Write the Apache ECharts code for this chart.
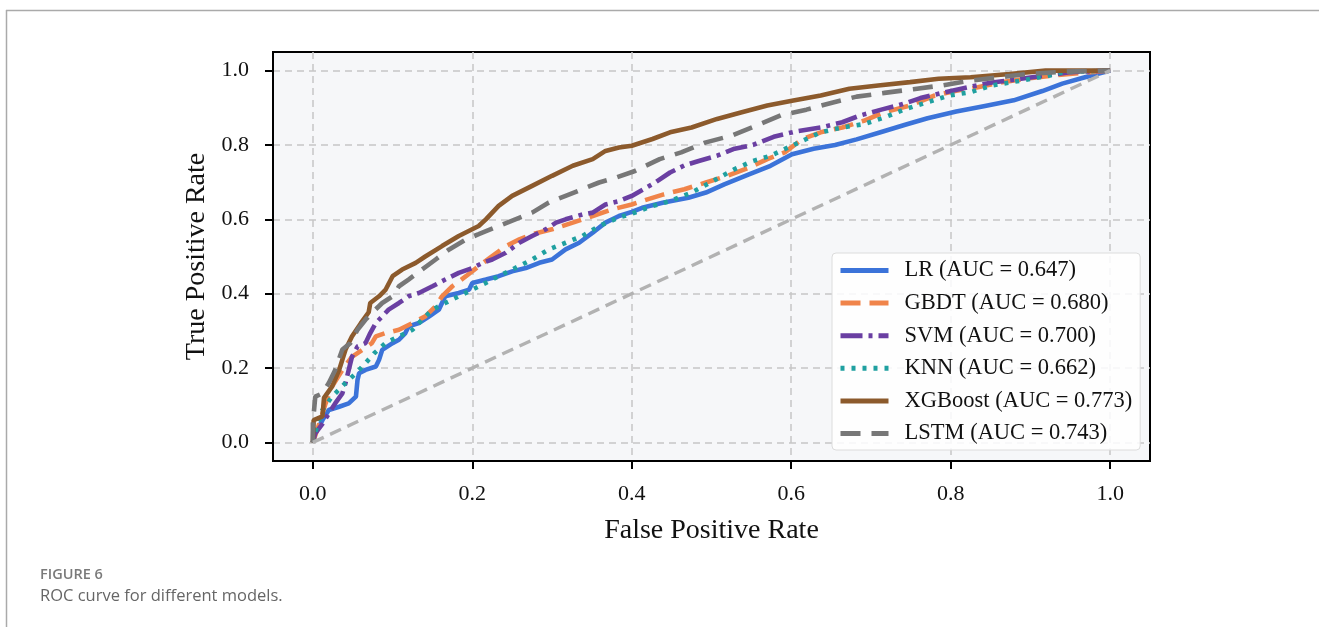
<!DOCTYPE html>
<html>
<head>
<meta charset="utf-8">
<script src="https://cdn.jsdelivr.net/npm/echarts@6/dist/echarts.min.js"></script>
<style>
  html, body { margin: 0; padding: 0; background: #fff; }
  #chart { width: 1319px; height: 627px; }
</style>
</head>
<body>
<div id="chart"></div>
<script>
// ---- Data ----
const tickValues = [0, 0.2, 0.4, 0.6, 0.8, 1.0];
const tickLabels = ['0.0', '0.2', '0.4', '0.6', '0.8', '1.0'];

const seriesNames = [
  'LR (AUC = 0.647)',
  'GBDT (AUC = 0.680)',
  'SVM (AUC = 0.700)',
  'KNN (AUC = 0.662)',
  'XGBoost (AUC = 0.773)',
  'LSTM (AUC = 0.743)'
];

const rocLR = [[0,0],[0.003,0.024],[0.012,0.06],[0.02,0.087],[0.033,0.096],[0.045,0.105],[0.054,0.123],[0.056,0.168],[0.058,0.186],[0.066,0.195],[0.079,0.204],[0.083,0.222],[0.087,0.249],[0.1,0.267],[0.108,0.276],[0.116,0.294],[0.12,0.312],[0.133,0.321],[0.146,0.339],[0.158,0.357],[0.166,0.393],[0.183,0.402],[0.196,0.411],[0.2,0.429],[0.217,0.438],[0.233,0.447],[0.25,0.46],[0.267,0.469],[0.284,0.483],[0.3,0.492],[0.317,0.519],[0.334,0.537],[0.351,0.564],[0.367,0.591],[0.384,0.609],[0.4,0.62],[0.413,0.631],[0.44,0.645],[0.471,0.658],[0.493,0.672],[0.516,0.694],[0.547,0.721],[0.574,0.744],[0.601,0.775],[0.628,0.79],[0.655,0.8],[0.682,0.815],[0.713,0.835],[0.744,0.855],[0.771,0.872],[0.807,0.89],[0.843,0.905],[0.879,0.92],[0.915,0.945],[0.94,0.965],[0.965,0.98],[1,1]];

const rocGBDT = [[0,0],[0.008,0.05],[0.016,0.105],[0.024,0.15],[0.037,0.195],[0.049,0.23],[0.062,0.249],[0.074,0.267],[0.079,0.285],[0.091,0.294],[0.108,0.303],[0.125,0.321],[0.141,0.339],[0.154,0.366],[0.162,0.393],[0.175,0.42],[0.192,0.447],[0.208,0.474],[0.225,0.501],[0.242,0.528],[0.259,0.546],[0.275,0.56],[0.3,0.573],[0.326,0.591],[0.351,0.609],[0.376,0.627],[0.4,0.64],[0.413,0.649],[0.44,0.667],[0.466,0.681],[0.493,0.699],[0.52,0.717],[0.547,0.739],[0.57,0.762],[0.592,0.78],[0.614,0.816],[0.637,0.834],[0.664,0.847],[0.691,0.865],[0.717,0.888],[0.749,0.906],[0.78,0.933],[0.807,0.946],[0.834,0.955],[0.865,0.969],[0.897,0.979],[0.933,0.988],[1,1]];

const rocSVM = [[0,0],[0.003,0.024],[0.012,0.05],[0.02,0.078],[0.028,0.105],[0.037,0.132],[0.041,0.16],[0.045,0.195],[0.049,0.23],[0.056,0.258],[0.066,0.267],[0.072,0.294],[0.079,0.321],[0.087,0.339],[0.095,0.357],[0.108,0.375],[0.12,0.393],[0.133,0.402],[0.15,0.42],[0.166,0.438],[0.183,0.456],[0.2,0.469],[0.213,0.483],[0.225,0.492],[0.242,0.51],[0.259,0.537],[0.275,0.555],[0.292,0.573],[0.305,0.591],[0.317,0.6],[0.338,0.613],[0.351,0.618],[0.367,0.64],[0.384,0.649],[0.4,0.663],[0.43,0.7],[0.448,0.726],[0.466,0.745],[0.484,0.757],[0.507,0.771],[0.529,0.79],[0.552,0.8],[0.578,0.822],[0.605,0.836],[0.637,0.847],[0.664,0.861],[0.686,0.879],[0.713,0.895],[0.74,0.91],[0.762,0.926],[0.789,0.94],[0.821,0.955],[0.852,0.968],[0.888,0.978],[0.924,0.988],[0.951,0.996],[1,1]];

const rocKNN = [[0,0],[0.005,0.042],[0.012,0.087],[0.024,0.123],[0.041,0.16],[0.054,0.186],[0.066,0.213],[0.077,0.24],[0.091,0.267],[0.108,0.285],[0.125,0.303],[0.137,0.33],[0.15,0.357],[0.166,0.375],[0.183,0.393],[0.2,0.411],[0.217,0.429],[0.233,0.447],[0.25,0.465],[0.275,0.492],[0.296,0.519],[0.317,0.537],[0.338,0.555],[0.359,0.582],[0.384,0.605],[0.4,0.615],[0.422,0.633],[0.448,0.649],[0.475,0.672],[0.502,0.703],[0.529,0.735],[0.552,0.757],[0.574,0.771],[0.596,0.793],[0.619,0.816],[0.637,0.834],[0.664,0.847],[0.691,0.856],[0.717,0.874],[0.744,0.897],[0.771,0.915],[0.798,0.933],[0.825,0.942],[0.852,0.96],[0.888,0.973],[0.924,0.987],[0.942,0.996],[1,1]];

const rocXGB = [[0,0],[0.001,0.06],[0.012,0.07],[0.014,0.12],[0.024,0.15],[0.033,0.195],[0.041,0.25],[0.049,0.285],[0.06,0.32],[0.07,0.35],[0.072,0.375],[0.083,0.393],[0.091,0.41],[0.1,0.447],[0.112,0.465],[0.129,0.483],[0.141,0.5],[0.162,0.528],[0.183,0.555],[0.208,0.582],[0.217,0.6],[0.233,0.636],[0.25,0.663],[0.275,0.69],[0.3,0.717],[0.326,0.744],[0.351,0.762],[0.367,0.784],[0.384,0.793],[0.4,0.798],[0.426,0.816],[0.448,0.834],[0.475,0.847],[0.507,0.87],[0.538,0.888],[0.57,0.906],[0.601,0.919],[0.637,0.933],[0.673,0.951],[0.709,0.96],[0.749,0.969],[0.785,0.978],[0.825,0.982],[0.874,0.991],[0.919,1.0],[1,1]];

const rocLSTM = [[0,0],[0,0.05],[0.003,0.123],[0.012,0.132],[0.02,0.16],[0.028,0.195],[0.037,0.25],[0.047,0.267],[0.056,0.303],[0.066,0.33],[0.074,0.348],[0.087,0.375],[0.1,0.393],[0.108,0.42],[0.12,0.438],[0.137,0.465],[0.154,0.492],[0.171,0.519],[0.192,0.546],[0.208,0.56],[0.233,0.582],[0.254,0.6],[0.275,0.618],[0.296,0.645],[0.317,0.663],[0.338,0.681],[0.359,0.699],[0.38,0.712],[0.404,0.73],[0.435,0.762],[0.462,0.78],[0.493,0.807],[0.525,0.825],[0.556,0.852],[0.587,0.88],[0.619,0.895],[0.65,0.913],[0.682,0.93],[0.717,0.94],[0.753,0.95],[0.789,0.96],[0.825,0.973],[0.861,0.982],[0.897,0.991],[0.942,0.997],[1,1]];

const chanceLine = [[0,0],[1,1]];

// ---- Chart ----
const SERIF = '"Liberation Serif", "Times New Roman", serif';
const colors = ['#3b73d9', '#f0844a', '#6a3fa2', '#1fa0a0', '#8c5a2c', '#777777'];
const dashes = ['solid', [20, 9], [22, 6, 4, 6], [4, 7], 'solid', [20, 11]];
const datasets = [rocLR, rocGBDT, rocSVM, rocKNN, rocXGB, rocLSTM];

const chart = echarts.init(document.getElementById('chart'), null, { renderer: 'canvas' });

const series = datasets.map((d, i) => ({
  name: seriesNames[i],
  type: 'line',
  data: d,
  symbol: 'none',
  smooth: false,
  animation: false,
  lineStyle: { color: colors[i], width: 4.6, type: dashes[i], cap: 'butt' },
  itemStyle: { color: colors[i] },
  z: 3 + i
}));
series.push({
  name: 'chance',
  type: 'line',
  data: chanceLine,
  symbol: 'none',
  animation: false,
  lineStyle: { color: '#b2b2b2', width: 3.4, type: [12, 7] },
  z: 10
});

const axisCommon = {
  type: 'value',
  min: -0.05,
  max: 1.05,
  axisLine: { show: true, onZero: false, lineStyle: { color: '#000', width: 2 } },
  axisTick: { show: true, inside: false, customValues: tickValues, length: 8, lineStyle: { color: '#000', width: 2 } },
  axisLabel: {
    customValues: tickValues,
    formatter: v => tickLabels[tickValues.findIndex(t => Math.abs(t - v) < 1e-6)] ?? '',
    fontFamily: SERIF, fontSize: 22, color: '#111'
  },
  splitLine: { show: true, lineStyle: { color: '#c6c6c6', width: 1.5, type: [7, 5] } },
  nameLocation: 'middle',
  nameTextStyle: { fontFamily: SERIF, fontSize: 28, color: '#111' }
};

chart.setOption({
  animation: false,
  grid: {
    left: 273, top: 52, width: 877, height: 409,
    show: true, backgroundColor: '#f6f7f9', borderColor: '#000', borderWidth: 2
  },
  xAxis: Object.assign({}, axisCommon, {
    position: 'bottom',
    name: 'False Positive Rate', nameGap: 56,
    axisLabel: Object.assign({}, axisCommon.axisLabel, { margin: 22 })
  }),
  yAxis: Object.assign({}, axisCommon, {
    position: 'left',
    name: 'True Positive Rate', nameGap: 62,
    axisLabel: Object.assign({}, axisCommon.axisLabel, { margin: 24 })
  }),
  legend: {
    data: seriesNames,
    orient: 'vertical',
    left: 832, top: 253,
    itemWidth: 48, itemHeight: 14, itemGap: 9.6,
    padding: [6, 8, 5, 6],
    backgroundColor: 'rgba(255,255,255,0.85)',
    borderColor: '#dcdcdc', borderWidth: 1, borderRadius: 4,
    itemStyle: { opacity: 0 },
    lineStyle: { width: 5 },
    textStyle: { fontFamily: SERIF, fontSize: 22.5, color: '#111', lineHeight: 22, padding: [0, 0, 0, 11] },
    selectedMode: false
  },
  graphic: [
    { type: 'line', shape: { x1: 6, y1: 10.5, x2: 1319, y2: 10.5 }, style: { stroke: '#aaaaaa', lineWidth: 1.5 }, silent: true },
    { type: 'line', shape: { x1: 6.5, y1: 10, x2: 6.5, y2: 627 }, style: { stroke: '#aaaaaa', lineWidth: 1.5 }, silent: true },
    { type: 'text', left: 40, top: 567, style: { text: 'FIGURE 6', font: '600 14.5px "Open Sans", sans-serif', fill: '#7a7a7a' }, silent: true },
    { type: 'text', left: 40, top: 588, style: { text: 'ROC curve for different models.', font: '400 16.5px "Open Sans", sans-serif', fill: '#666666' }, silent: true }
  ],
  series: series
});
</script>
</body>
</html>
